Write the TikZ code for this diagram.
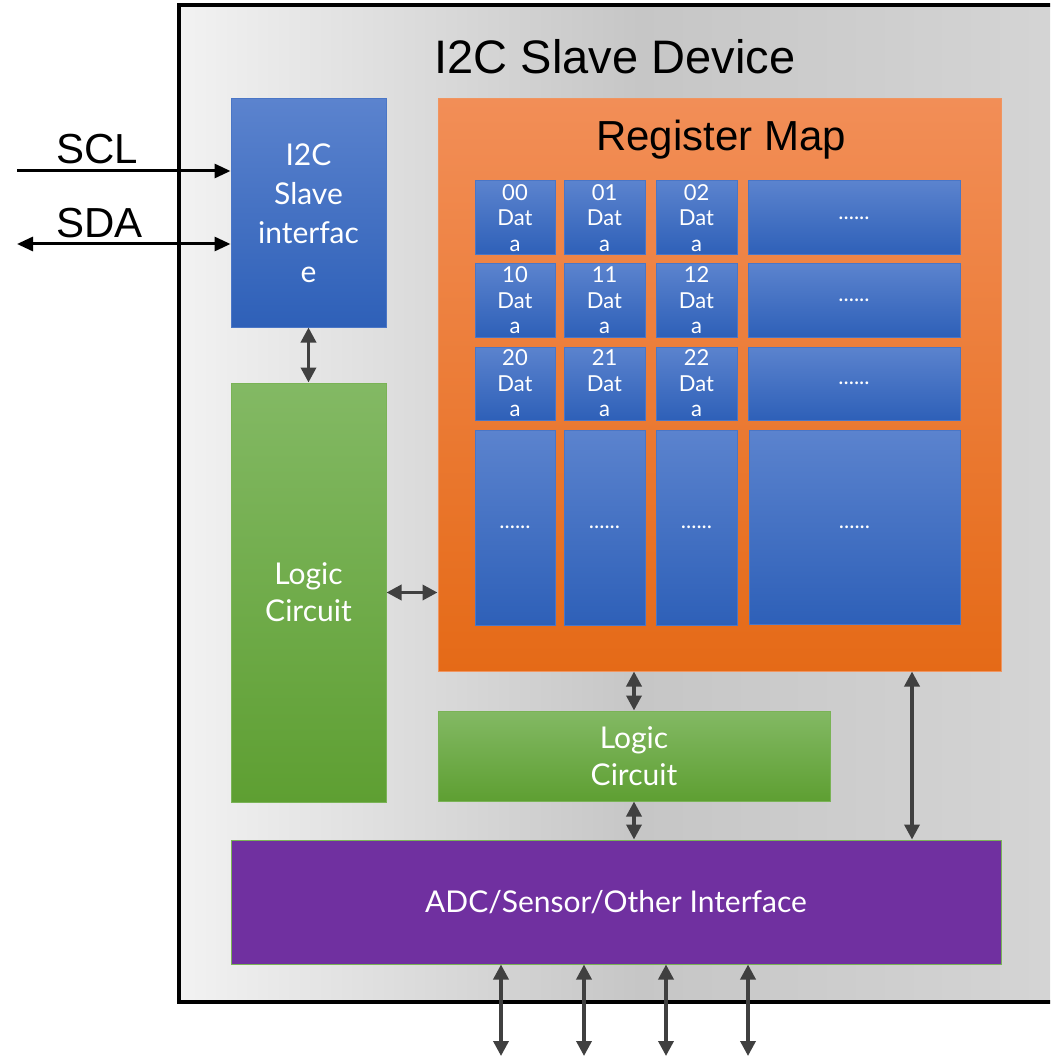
\documentclass[tikz,border=0pt]{standalone}
\usepackage{fontspec}
\setmainfont{Liberation Sans}
\newfontfamily\wfont{Lato}
\usetikzlibrary{arrows.meta}
\definecolor{oL}{HTML}{F2F2F2}
\definecolor{oM}{HTML}{C6C6C6}
\definecolor{oR}{HTML}{D6D6D6}
\definecolor{bT}{HTML}{5B83CE}
\definecolor{bB}{HTML}{2E60B8}
\definecolor{bD}{HTML}{4A76C6}
\definecolor{gT}{HTML}{83B964}
\definecolor{gB}{HTML}{5E9F32}
\definecolor{gD}{HTML}{7AB356}
\definecolor{rT}{HTML}{F28E57}
\definecolor{rB}{HTML}{E56A17}
\definecolor{rD}{HTML}{F09560}
\definecolor{pu}{HTML}{7030A0}
\definecolor{ar}{HTML}{404040}
\tikzset{
  bluebox/.style={draw=bD, line width=1pt, top color=bT, bottom color=bB, text=white, inner sep=0pt, align=center},
  greenbox/.style={draw=gD, line width=1pt, top color=gT, bottom color=gB, text=white, inner sep=0pt, align=center,
    font=\wfont\fontsize{30}{37}\selectfont},
  cell/.style={bluebox, font=\wfont\fontsize{22}{25.5}\selectfont},
  darr/.style={draw=ar, line width=3.5pt, {Triangle[length=15pt,width=15pt]}-{Triangle[length=15pt,width=15pt]}},
  barr/.style={draw=black, line width=3pt},
}
\begin{document}
\begin{tikzpicture}[x=1pt,y=-1pt]
\useasboundingbox (0,0) rectangle (1050,1056);
\clip (0,0) rectangle (1050,1056);
% device box
\node[draw=black, line width=4pt, left color=oL, right color=oR, middle color=oM,
  minimum width=921pt, minimum height=997pt, inner sep=0pt] (dev) at (639.5,503.5) {};
\node[font=\fontsize{47}{50}\selectfont, inner sep=0pt] (title) at (615,57) {I2C Slave Device};
% I2C interface
\node[bluebox, minimum width=155pt, minimum height=228pt, font=\wfont\fontsize{30}{39}\selectfont]
  (intf) at (308.5,213) {I2C\\Slave\\interfac\\e};
% left logic
\node[greenbox, minimum width=155pt, minimum height=419pt] (lc1) at (308.5,592.5) {Logic\\Circuit};
% register map
\node[draw=rD, line width=1pt, top color=rT, bottom color=rB, minimum width=563pt, minimum height=572pt, inner sep=0pt]
  (reg) at (719.5,385) {};
\node[font=\fontsize{42}{45}\selectfont, inner sep=0pt] (regt) at (721,140) {Register Map};
% cells
\node[cell, minimum width=80pt, minimum height=74pt] (c00) at (515,218) {00\\Dat\\a};
\node[cell, minimum width=81pt, minimum height=74pt] (c01) at (604.5,218) {01\\Dat\\a};
\node[cell, minimum width=81pt, minimum height=74pt] (c02) at (696.5,218) {02\\Dat\\a};
\node[cell, minimum width=212pt, minimum height=74pt] (c03) at (854,218) {......};
\node[cell, minimum width=80pt, minimum height=73pt] (c10) at (515,300.5) {10\\Dat\\a};
\node[cell, minimum width=81pt, minimum height=73pt] (c11) at (604.5,300.5) {11\\Dat\\a};
\node[cell, minimum width=81pt, minimum height=73pt] (c12) at (696.5,300.5) {12\\Dat\\a};
\node[cell, minimum width=212pt, minimum height=73pt] (c13) at (854,300.5) {......};
\node[cell, minimum width=80pt, minimum height=73pt] (c20) at (515,383.5) {20\\Dat\\a};
\node[cell, minimum width=81pt, minimum height=73pt] (c21) at (604.5,383.5) {21\\Dat\\a};
\node[cell, minimum width=81pt, minimum height=73pt] (c22) at (696.5,383.5) {22\\Dat\\a};
\node[cell, minimum width=212pt, minimum height=73pt] (c23) at (854,383.5) {......};
\node[cell, minimum width=80pt, minimum height=195pt] (c30) at (515,527.5) {......};
\node[cell, minimum width=81pt, minimum height=195pt] (c31) at (604.5,527.5) {......};
\node[cell, minimum width=81pt, minimum height=195pt] (c32) at (696.5,527.5) {......};
\node[cell, minimum width=211pt, minimum height=194pt] (c33) at (854.5,527) {......};
% lower logic
\node[greenbox, minimum width=392pt, minimum height=90pt] (lc2) at (634,756) {Logic\\Circuit};
% ADC
\node[draw=gD, line width=1pt, fill=pu, text=white, minimum width=770pt, minimum height=124pt, inner sep=0pt,
  font=\wfont\fontsize{30}{34}\selectfont] (adc) at (616,902) {ADC/Sensor/Other Interface};
% SCL / SDA
\node[font=\fontsize{42}{45}\selectfont, inner sep=0pt, anchor=west] (scl) at (56,149) {SCL};
\node[font=\fontsize{42}{45}\selectfont, inner sep=0pt, anchor=west] (sda) at (56,223) {SDA};
\coordinate (sclL) at (17,171);
\coordinate (sdaL) at (17,244);
\draw[barr, -{Triangle[length=16pt,width=14pt]}] (sclL) -- (sclL -| intf.west);
\draw[barr, {Triangle[length=16pt,width=14pt]}-{Triangle[length=16pt,width=14pt]}] (sdaL) -- (sdaL -| intf.west);
% internal arrows
\draw[darr] (intf.south) -- (lc1.north);
\draw[darr] (lc1.east) -- (lc1.east -| reg.west);
\draw[darr] (reg.south -| lc2.north) -- (lc2.north);
\draw[darr] (lc2.south) -- (adc.north -| lc2.south);
\coordinate (rx) at (912,0);
\draw[darr] (reg.south -| rx) -- (adc.north -| rx);
% bottom arrows
\coordinate (b1) at (501,1056);
\coordinate (b2) at (584,1056);
\coordinate (b3) at (666,1056);
\coordinate (b4) at (748,1056);
\draw[darr] (adc.south -| b1) -- (b1);
\draw[darr] (adc.south -| b2) -- (b2);
\draw[darr] (adc.south -| b3) -- (b3);
\draw[darr] (adc.south -| b4) -- (b4);
\end{tikzpicture}
\end{document}
